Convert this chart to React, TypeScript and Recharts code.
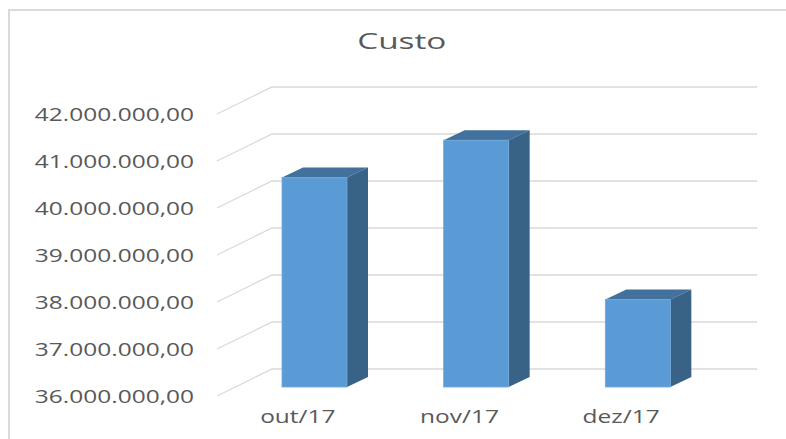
import React from 'react';
import { BarChart, Bar, XAxis, YAxis, CartesianGrid } from 'recharts';

const months = ['out/17', 'nov/17', 'dez/17'];
const custo = [40460000, 41250000, 37860000];
const yTicks = [36000000, 37000000, 38000000, 39000000, 40000000, 41000000, 42000000];

const data = months.map((mes, i) => ({ mes, custo: custo[i] }));

// depth of the fake 3D floor (front edge vs back wall)
const FLOOR_DX = -55;
const FLOOR_DY = 27;

const FONT = '"Open Sans", sans-serif';
const TEXT = '#595959';

// pt-BR number format: 42.000.000,00
const formatBRL = (v: number) => {
  const int = Math.round(v).toString().replace(/\B(?=(\d{3})+(?!\d))/g, '.');
  return `${int},00`;
};

const Bar3D = (props: any) => {
  const { x, y, width, height } = props;
  // front face sits between the back wall and the floor edge
  const fx = -38;
  const fy = 18;
  const dx = 21;
  const dy = -10;
  const X = x + fx;
  const Y = y + fy;
  const B = y + height + fy;
  return (
    <g>
      <polygon
        points={`${X},${Y} ${X + width},${Y} ${X + width + dx},${Y + dy} ${X + dx},${Y + dy}`}
        fill="#41719c"
      />
      <polygon
        points={`${X + width},${Y} ${X + width + dx},${Y + dy} ${X + width + dx},${B + dy} ${X + width},${B}`}
        fill="#386286"
      />
      <rect x={X} y={Y} width={width} height={B - Y} fill="#5b9bd5" stroke="#6ea7da" strokeWidth={0.8} />
    </g>
  );
};

const GridLine = (props: any) => {
  const { x1, y1, x2, y2 } = props;
  return (
    <path
      d={`M${x1 + FLOOR_DX},${y1 + FLOOR_DY} L${x1},${y1} L${x2},${y2}`}
      stroke="#d9d9d9"
      strokeWidth={1.3}
      fill="none"
    />
  );
};

const YTick = ({ x, y, payload }: any) => (
  <text
    transform={`translate(${x - 78},${y + FLOOR_DY + 1}) scale(1.4,1)`}
    textAnchor="end"
    dy="0.35em"
    fontSize={17.5}
    fontFamily={FONT}
    fill={TEXT}
  >
    {formatBRL(payload.value)}
  </text>
);

const XTick = ({ x, y, payload }: any) => (
  <text
    transform={`translate(${x + FLOOR_DX},${y + 48}) scale(1.4,1)`}
    textAnchor="middle"
    dy="0.35em"
    fontSize={17.5}
    fontFamily={FONT}
    fill={TEXT}
  >
    {payload.value}
  </text>
);

const App = () => {
  return (
    <div
      style={{
        position: 'absolute',
        left: 0,
        top: 0,
        width: 786,
        height: 439,
        overflow: 'hidden',
        background: '#fff',
      }}
    >
      <div
        style={{
          position: 'absolute',
          left: 8,
          top: 9,
          width: 800,
          height: 460,
          border: '2px solid #d9d9d9',
        }}
      />
      <div
        style={{
          position: 'absolute',
          left: 0,
          width: 804,
          top: 27,
          textAlign: 'center',
          fontFamily: FONT,
          fontSize: 21.5,
          color: TEXT,
          lineHeight: '28px',
        }}
      >
        <span style={{ display: 'inline-block', transform: 'scaleX(1.55)' }}>Custo</span>
      </div>
      <div style={{ position: 'absolute', left: 0, top: 0 }}>
        <BarChart
          width={786}
          height={439}
          data={data}
          margin={{ top: 87, right: 29, bottom: 0, left: 0 }}
          barSize={65}
        >
          <CartesianGrid vertical={false} horizontal={(p: any) => <GridLine {...p} />} />
          <XAxis
            dataKey="mes"
            axisLine={false}
            tickLine={false}
            tickSize={0}
            tickMargin={0}
            height={70}
            tick={<XTick />}
            interval={0}
          />
          <YAxis
            width={272}
            domain={[36000000, 42000000]}
            ticks={yTicks}
            axisLine={false}
            tickLine={false}
            tickSize={0}
            tickMargin={0}
            tick={<YTick />}
            interval={0}
          />
          <Bar dataKey="custo" shape={<Bar3D />} isAnimationActive={false} />
        </BarChart>
      </div>
    </div>
  );
};

export default App;
